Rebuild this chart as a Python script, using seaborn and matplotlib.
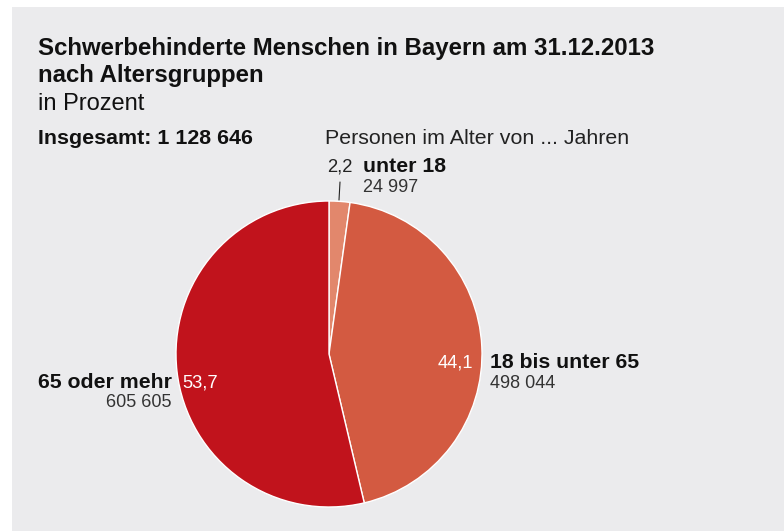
import matplotlib
matplotlib.use("Agg")
import matplotlib.pyplot as plt
import seaborn as sns
from matplotlib.patches import Rectangle

# data
groups = ["unter 18", "18 bis unter 65", "65 oder mehr"]
persons = [24997, 498044, 605605]
shares = [2.2, 44.1, 53.7]
colors = ["#e2876c", "#d35a41", "#c1131c"]
total = 1128646

sns.set_style("white")
plt.rcParams["font.family"] = ["Liberation Sans", "DejaVu Sans"]

W, H = 784, 531
fig = plt.figure(figsize=(W / 100, H / 100), dpi=100, facecolor="white")


def px(x, y):
    return x / W, 1 - y / H


def fmt_num(n):
    return f"{n:,}".replace(",", " ")


def pct(v):
    return f"{v:.1f}".replace(".", ",")


# gray panel
fig.add_artist(Rectangle(px(12, H), (W - 12) / W, (H - 7) / H,
                         transform=fig.transFigure, facecolor="#ebebed",
                         edgecolor="none", zorder=0))

# pie
cx, cy, r = 329, 354, 153
ax = fig.add_axes([(cx - r) / W, (H - cy - r) / H, 2 * r / W, 2 * r / H])
ax.pie(shares, colors=colors, startangle=90, counterclock=False, radius=1,
       wedgeprops=dict(edgecolor="white", linewidth=1))
ax.set_xlim(-1, 1)
ax.set_ylim(-1, 1)
ax.axis("off")

# titles
fig.text(*px(38, 55), "Schwerbehinderte Menschen in Bayern am 31.12.2013",
         fontsize=17.3, fontweight="bold", color="#111111")
fig.text(*px(38, 82), "nach Altersgruppen", fontsize=17.3, fontweight="bold", color="#111111")
fig.text(*px(38, 110), "in Prozent", fontsize=17, color="#111111")
fig.text(*px(38, 144), f"Insgesamt: {fmt_num(total)}", fontsize=15.4,
         fontweight="bold", color="#111111")
fig.text(*px(325, 144), "Personen im Alter von ... Jahren", fontsize=15.4, color="#222222")

# unter 18
fig.text(*px(352, 172), pct(shares[0]), fontsize=13.2, ha="right", color="#222222")
fig.text(*px(363, 172), groups[0], fontsize=15.3, fontweight="bold", color="#111111")
fig.text(*px(363, 192), fmt_num(persons[0]), fontsize=13, color="#333333")
fig.add_artist(plt.Line2D([340 / W, 339 / W], [1 - 182 / H, 1 - 200 / H],
                          transform=fig.transFigure, color="#222222", lw=0.8))

# 18 bis unter 65
fig.text(*px(473, 368), pct(shares[1]), fontsize=13.2, ha="right", color="white")
fig.text(*px(490, 368), groups[1], fontsize=15.3, fontweight="bold", color="#111111")
fig.text(*px(490, 388), fmt_num(persons[1]), fontsize=13, color="#333333")

# 65 oder mehr
fig.text(*px(182, 388), pct(shares[2]), fontsize=13.2, color="white")
fig.text(*px(172, 388), groups[2], fontsize=15.3, fontweight="bold", ha="right", color="#111111")
fig.text(*px(172, 407), fmt_num(persons[2]), fontsize=13, ha="right", color="#333333")

fig.savefig("out.png", dpi=100, facecolor="white")
